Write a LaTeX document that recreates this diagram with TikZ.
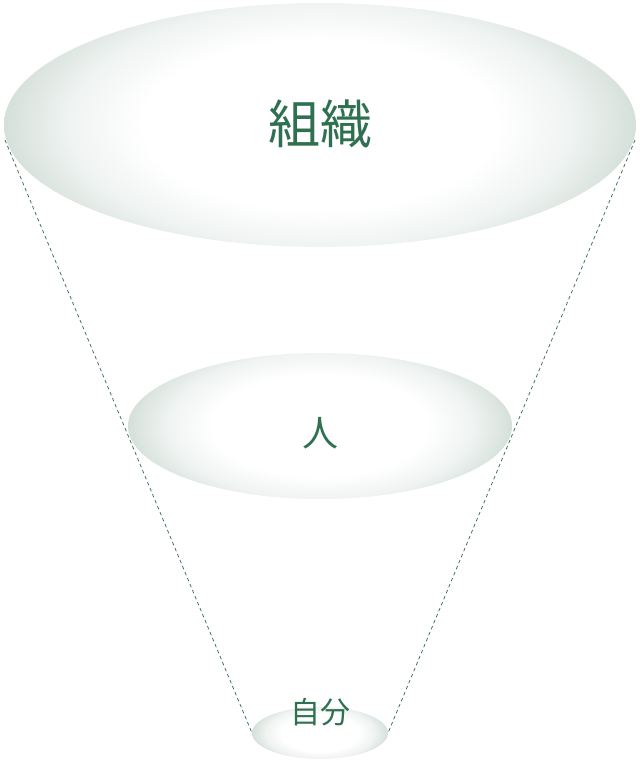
\documentclass[tikz,border=0pt]{standalone}
\usepackage{fontspec}
\newfontfamily\cjk{Noto Sans CJK JP}
\usetikzlibrary{shapes.geometric}
\definecolor{txtgreen}{HTML}{2F7050}
\definecolor{dashgreen}{HTML}{3A6E56}
\definecolor{edgecol}{HTML}{D5E0DA}
\definecolor{midcol}{HTML}{EFF3F1}
\pgfdeclareradialshading{softdisc}{\pgfpoint{0bp}{0bp}}{color(0bp)=(white); color(14bp)=(white); color(20bp)=(midcol); color(25bp)=(edgecol); color(50bp)=(edgecol)}
\begin{document}
\begin{tikzpicture}[x=1pt,y=1pt,
  disc/.style 2 args={ellipse, inner sep=0pt, fill=white,
    minimum width=2*#1, minimum height=2*#2,
    path picture={\shade[shading=softdisc] (path picture bounding box.center) ellipse[x radius=#1, y radius=1.25*#2];}},
  label/.style={text=txtgreen, font=\cjk},
  guide/.style={dashgreen, line width=0.75pt, dash pattern=on 3.5pt off 3pt}]
\useasboundingbox (0,0) rectangle (640,-762);
\coordinate (tl) at (5,-140);
\coordinate (tr) at (635,-140);
\coordinate (bl) at (252,-733);
\coordinate (br) at (388,-733);
\draw[guide] (tl) -- (bl);
\draw[guide] (tr) -- (br);
\node[disc={316pt}{122pt}] (big) at (320,-125) {};
\node[disc={192pt}{73pt}] (mid) at (320,-426) {};
\node[disc={68pt}{26pt}] (small) at (320,-733) {};
\node[label, font=\cjk\fontsize{52}{52}\selectfont] (t1) at (320,-124) {組織};
\node[label, font=\cjk\fontsize{36}{36}\selectfont] (t2) at (320,-433) {人};
\node[label, font=\cjk\fontsize{30}{30}\selectfont] (t3) at (320,-712) {自分};
\end{tikzpicture}
\end{document}
